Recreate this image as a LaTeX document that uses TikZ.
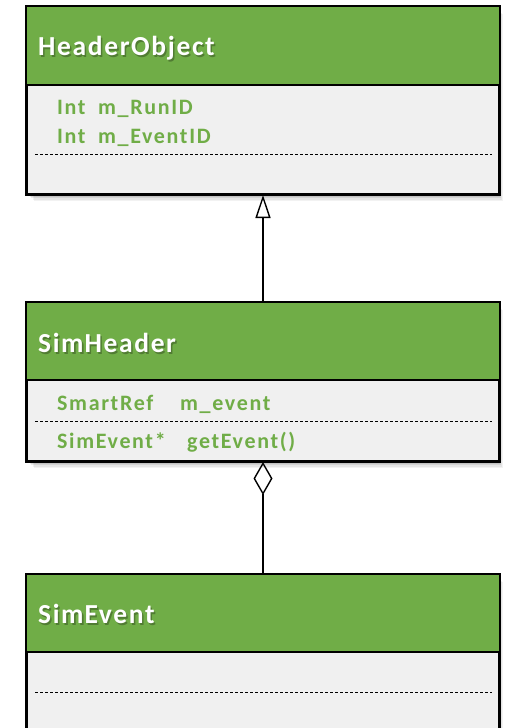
\documentclass[tikz,border=0pt]{standalone}
\usepackage{fontspec}
\setmainfont{Carlito}
\newfontfamily\titlefamily[LetterSpace=6]{Carlito}
\newfontfamily\memberfamily[LetterSpace=7.5]{Carlito}
\usetikzlibrary{arrows.meta}
\definecolor{umlgreen}{HTML}{70AD47}
\definecolor{umlbody}{HTML}{F0F0F0}
\colorlet{titleshade}{umlgreen!72!black}
\tikzset{
  classbox/.style={rectangle, draw=black, line width=2pt, fill=umlbody,
    inner sep=0pt, minimum width=472pt},
  titlefont/.style={font=\titlefamily\fontsize{27.5}{32}\selectfont\bfseries, inner sep=0pt, anchor=base west},
  membertext/.style={font=\memberfamily\fontsize{22}{26}\selectfont\bfseries, text=umlgreen,
    inner sep=0pt, anchor=base west},
  sepline/.style={black, line width=1pt, dash pattern=on 3pt off 2pt},
  connector/.style={black, line width=1.4pt},
}
% soft drop shadow behind a box given by its corners
\newcommand{\boxshadow}[4]{%
  \foreach \d/\o in {7/0.05,5.5/0.06,4/0.08,2.5/0.08}{%
    \fill[black, opacity=\o] (#1+\d,#2+\d) rectangle (#3+\d*0.5,#4+\d);}%
}
% white class title with a faint shadow beneath it
\newcommand{\titletext}[1]{%
  \makebox[0pt][l]{\hspace{1.5pt}\raisebox{-2.5pt}{\textcolor{titleshade}{#1}}}%
  \textcolor{white}{#1}}
\begin{document}
\begin{tikzpicture}[x=1pt, y=-1pt]
\useasboundingbox (0,0) rectangle (506,728);

% ---------- HeaderObject ----------
\boxshadow{27}{7}{499}{194}
\node[classbox, minimum height=187pt] (ho) at (263,100.5) {};
\fill[umlgreen] (ho.north west) rectangle (499,85);
\draw[line width=2pt] (27,85) -- (499,85);
\draw[line width=2pt] (ho.north west) rectangle (ho.south east);
\node[titlefont] (hoTitle) at (38,55) {\titletext{HeaderObject}};
\node[membertext] (hoRunT) at (57,114) {Int};
\node[membertext] (hoRunN) at (98,114) {m\_RunID};
\node[membertext] (hoEvtT) at (57,143) {Int};
\node[membertext] (hoEvtN) at (98,143) {m\_EventID};
\draw[sepline] (35,154) -- (492,154);

% ---------- SimHeader ----------
\boxshadow{27}{303}{499}{461}
\node[classbox, minimum height=158pt] (sh) at (263,382) {};
\fill[umlgreen] (sh.north west) rectangle (499,380);
\draw[line width=2pt] (27,380) -- (499,380);
\draw[line width=2pt] (sh.north west) rectangle (sh.south east);
\node[titlefont] (shTitle) at (38,352) {\titletext{Sim\hspace{1pt}Header}};
\node[membertext] (shAttrT) at (57,410) {SmartRef};
\node[membertext] (shAttrN) at (180,410) {m\_event};
\node[membertext] (shOpT) at (57,448) {SimEvent*};
\node[membertext] (shOpN) at (187,448) {getEvent()};
\draw[sepline] (35,421) -- (492,421);

% ---------- SimEvent ----------
\boxshadow{27}{575}{499}{745}
\node[classbox, minimum height=170pt] (se) at (263,660) {};
\fill[umlgreen] (se.north west) rectangle (499,652);
\draw[line width=2pt] (27,652) -- (499,652);
\draw[line width=2pt] (se.north west) rectangle (se.south east);
\node[titlefont] (seTitle) at (38,623) {\titletext{Sim\hspace{1pt}Event}};
\draw[sepline] (35,692) -- (492,692);

% ---------- relations ----------
\draw[connector, -{Triangle[open, length=23pt, width=15pt, line width=1.4pt]}]
  (sh.north) -- (ho.south);
\draw[connector, {Diamond[open, length=33pt, width=19pt, line width=1.4pt]}-]
  (sh.south) -- (se.north);
\end{tikzpicture}
\end{document}
